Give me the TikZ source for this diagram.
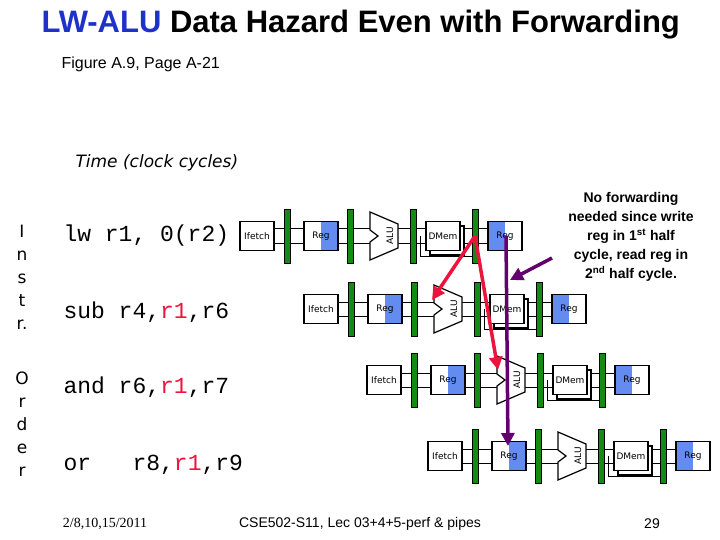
\documentclass[tikz,border=0pt]{standalone}
\usepackage{fontspec}
\setmainfont{Liberation Sans}
\newfontfamily\monof{Liberation Mono}
\newfontfamily\comicf{DejaVu Sans}
\newfontfamily\serf{Liberation Serif}
\usetikzlibrary{arrows.meta}
\definecolor{tblue}{RGB}{30,50,200}
\definecolor{gbar}{RGB}{20,140,20}
\definecolor{rshade}{RGB}{100,140,240}
\definecolor{fred}{RGB}{235,20,60}
\definecolor{fpurp}{RGB}{100,0,110}
\tikzset{
 box/.style={draw,line width=1.2pt,fill=white,minimum width=34pt,minimum height=29pt,inner sep=0pt,font=\fontsize{9}{10}\selectfont},
 lbl/.style={font=\comicf\fontsize{9}{10}\selectfont},
 gbar/.style={fill=gbar,draw=black,line width=0.5pt},
 wire/.style={line width=1pt},
 fwd/.style={line width=3.5pt,-{Triangle[length=13pt,width=13pt]}},
 instr/.style={anchor=west,font=\monof\fontsize{23}{25}\selectfont},
}
\newcommand\piperow[3]{%
 \begin{scope}[shift={(#1,#2)}]
  \draw[wire] (34,-7)--(282,-7); \draw[wire] (34,7)--(282,7);
  \draw[wire] (180,0)--(180,20)--(235,20)--(235,0);
  \node[box] (#3if) at (17,0) {\comicf Ifetch};
  \node[box] (#3rr) at (81,0) {};
  \fill[rshade] (81,-13.8) rectangle (97.4,13.8);
  \draw[line width=1.2pt] (64,-14.5) rectangle (98,14.5);
  \node[lbl] at (81,0) {Reg};
  \draw[line width=1.2pt,fill=white] (130,-24)--(158,-12)--(158,12)--(130,24)--(130,6)--(138,0)--(130,-6)--cycle;
  \node[rotate=90,lbl] (#3alu) at (150,0) {ALU};
  \draw[line width=1.2pt,fill=white] (190,-10) rectangle (224,19);
  \node[box] (#3dm) at (203,0) {\comicf DMem};
  \node[box] (#3wr) at (265,0) {};
  \fill[rshade] (248.6,-13.8) rectangle (265,13.8);
  \draw[line width=1.2pt] (248,-14.5) rectangle (282,14.5);
  \node[lbl] at (265,0) {Reg};
  \foreach \bx in {44,107,170,232} {\draw[gbar] (\bx,-27) rectangle (\bx+6,27);}
 \end{scope}}
\begin{document}
\begin{tikzpicture}[x=1pt,y=-1pt]
\useasboundingbox (0,0) rectangle (720,540);
\node[anchor=base west,font=\bfseries\fontsize{31}{33}\selectfont] (title) at (38,33) {\textcolor{tblue}{LW-ALU} Data Hazard Even with Forwarding};
\node[anchor=base west,font=\fontsize{16}{18}\selectfont] (fig) at (58,69) {Figure A.9, Page A-21};
\node[anchor=base west,font=\comicf\itshape\fontsize{17}{19}\selectfont] (time) at (72,168) {Time (clock cycles)};
\node[anchor=north,align=center,font=\comicf\fontsize{17}{23}\selectfont] (instr) at (22,222) {I\\n\\s\\t\\r.};
\node[anchor=north,align=center,font=\comicf\fontsize{17}{23}\selectfont] (order) at (22,368) {O\\r\\d\\e\\r};
\node[instr] (i1) at (60,236) {lw r1, 0(r2)};
\node[instr] (i2) at (60,312) {sub r4,\textcolor{fred}{r1},r6};
\node[instr] (i3) at (60,387) {and r6,\textcolor{fred}{r1},r7};
\node[instr] (i4) at (60,465) {or\ \ \ r8,\textcolor{fred}{r1},r9};
\piperow{240}{236}{a}
\piperow{304}{309}{b}
\piperow{367}{380}{c}
\piperow{428}{456}{d}
\node[align=center,font=\bfseries\fontsize{14}{19}\selectfont] (note) at (631,237) {No forwarding\\needed since write\\reg in 1\textsuperscript{st} half\\cycle, read reg in\\2\textsuperscript{nd} half cycle.};
\coordinate (src) at (475,236);
\coordinate (t2) at (432,300);
\coordinate (t3) at (498,370);
\coordinate (ps) at (506,236);
\coordinate (pt) at (508,446);
\coordinate (ns) at (552,258);
\coordinate (nt) at (510,280);
\draw[fwd,fred] (src)--(t2);
\draw[fwd,fred] (src)--(t3);
\draw[fwd,fpurp] (ps)--(pt);
\draw[fwd,fpurp] (ns)--(nt);
\node[font=\serf\fontsize{14}{16}\selectfont] (date) at (105,524) {2/8,10,15/2011};
\node[font=\fontsize{14}{16}\selectfont] (foot) at (360,524) {CSE502-S11, Lec 03+4+5-perf \& pipes};
\node[font=\fontsize{14}{16}\selectfont] (pg) at (652,524) {29};
\end{tikzpicture}
\end{document}
